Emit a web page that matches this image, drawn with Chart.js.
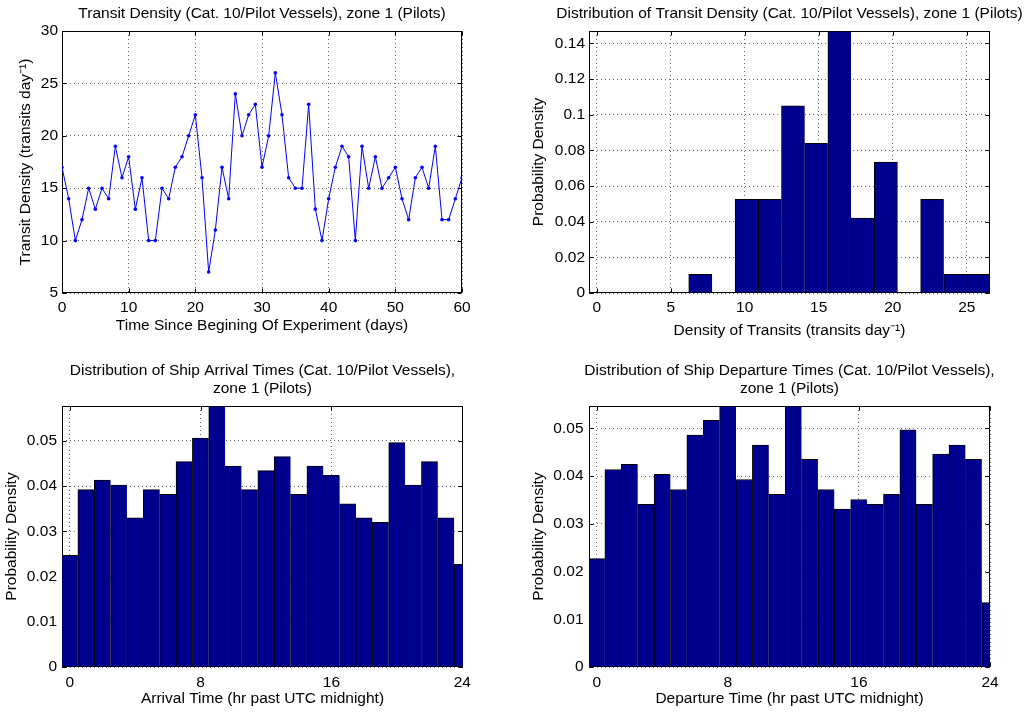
<!DOCTYPE html>
<html>
<head>
<meta charset="utf-8">
<script src="https://cdn.jsdelivr.net/npm/chart.js@4/dist/chart.umd.min.js"></script>
<style>
  html, body { margin: 0; padding: 0; background: #fff; }
  #wrap { position: relative; width: 1032px; height: 713px; background: #fff; }
  canvas { position: absolute; }
</style>
</head>
<body>
<div id="wrap">
  <canvas id="cTransit" width="516" height="350" style="left:0;top:0"></canvas>
  <canvas id="cDensity" width="516" height="350" style="left:516px;top:0"></canvas>
  <canvas id="cArrival" width="516" height="363" style="left:0;top:350px"></canvas>
  <canvas id="cDeparture" width="516" height="363" style="left:516px;top:350px"></canvas>
</div>
<script>
// ---- Daily transit counts, pilot vessels, zone 1 ----
const days = [0,1,2,3,4,5,6,7,8,9,10,11,12,13,14,15,16,17,18,19,20,
  21,22,23,24,25,26,27,28,29,30,31,32,33,34,35,36,37,38,39,40,
  41,42,43,44,45,46,47,48,49,50,51,52,53,54,55,56,57,58,59,60];
const transitsPerDay = [17,14,10,12,15,13,15,14,19,16,
  18,13,16,10,10,15,14,17,18,20,
  22,16,7,11,17,14,24,20,22,23,
  17,20,26,22,16,15,15,23,13,10,
  14,17,19,18,10,19,15,18,15,16,
  17,14,12,16,17,15,19,12,12,14,16];

// ---- Histogram of daily transit density ----
const densityBinCenters = [7.000, 8.567, 10.133, 11.700, 13.267, 14.833, 16.400,
  17.967, 19.533, 21.100, 22.667, 24.233, 25.800];
const densityPdf = [0.0105, 0, 0.0525, 0.0525, 0.1050, 0.0840, 0.1470,
  0.0420, 0.0735, 0, 0.0525, 0.0105, 0.0105];

// ---- Hour-of-day histograms ----
const hourBins = [0,1,2,3,4,5,6,7,8,9,10,11,12,13,14,15,16,17,18,19,20,21,22,23,24];
const arrivalPdf = [0.0247,0.0392,0.0413,0.0402,0.0330,0.0392,0.0382,0.0454,0.0506,0.0577,
  0.0444,0.0392,0.0434,0.0465,0.0382,0.0444,0.0424,0.0361,0.0330,0.0320,
  0.0496,0.0402,0.0454,0.0330,0.0227];
const departurePdf = [0.0227,0.0414,0.0425,0.0341,0.0404,0.0372,0.0486,0.0517,0.0547,0.0393,
  0.0465,0.0362,0.0547,0.0435,0.0372,0.0331,0.0351,0.0341,0.0362,0.0497,
  0.0341,0.0446,0.0465,0.0435,0.0135];

// ---- Tick labels ----
const dayTicks = [0,10,20,30,40,50,60];
const transitTicks = [5,10,15,20,25,30];
const densityTicks = [0,5,10,15,20,25];
const pdfTicksDensity = [0,0.02,0.04,0.06,0.08,0.10,0.12,0.14];
const hourTicks = [0,8,16,24];
const pdfTicksHour = [0,0.01,0.02,0.03,0.04,0.05];

const FONT = "'Liberation Sans', Arial, Helvetica, sans-serif";
const FS = 15.5;
Chart.defaults.font.family = FONT;
Chart.defaults.color = '#000';

const fmt = v => String(Number(Number(v).toFixed(4)));

// Boxed axes with inward tick marks, drawn beneath the data
const axesBox = {
  id: 'axesBox',
  beforeDatasetsDraw(chart) {
    const { ctx, chartArea: a, scales: { x, y } } = chart;
    const L = Math.round(a.left) + 0.5, R = Math.round(a.right) - 0.5;
    const T = Math.round(a.top) + 0.5, B = Math.round(a.bottom) - 0.5;
    const len = 4;
    ctx.save();
    ctx.setLineDash([]);
    ctx.strokeStyle = '#000';
    ctx.lineWidth = 1;
    ctx.strokeRect(L, T, R - L, B - T);
    ctx.beginPath();
    x.ticks.forEach(t => {
      const px = Math.round(x.getPixelForValue(t.value)) + 0.5;
      ctx.moveTo(px, B); ctx.lineTo(px, B - len);
      ctx.moveTo(px, T); ctx.lineTo(px, T + len);
    });
    y.ticks.forEach(t => {
      const py = Math.round(y.getPixelForValue(t.value)) + 0.5;
      ctx.moveTo(L, py); ctx.lineTo(L + len, py);
      ctx.moveTo(R, py); ctx.lineTo(R - len, py);
    });
    ctx.stroke();
    ctx.restore();
  }
};

// Plot title centred over the axes box; long titles may run past the box edges
const panelTitle = {
  id: 'panelTitle',
  afterDraw(chart, args, opts) {
    const { ctx, chartArea: a } = chart;
    ctx.save();
    ctx.font = FS + 'px ' + FONT;
    ctx.fillStyle = '#000';
    ctx.textAlign = 'center';
    ctx.textBaseline = 'middle';
    opts.lines.forEach((t, i) => ctx.fillText(t, (a.left + a.right) / 2, opts.y + i * opts.gap));
    ctx.restore();
  }
};

function axis(o) {
  return {
    type: 'linear',
    min: o.min, max: o.max,
    offset: false,
    afterBuildTicks: s => { s.ticks = o.ticks.map(v => ({ value: v })); },
    afterFit: s => { if (o.horizontal) s.height = o.size; else s.width = o.size; },
    grid: { color: '#666', lineWidth: 1, drawTicks: false, offset: false, borderDash: [1, 3] },
    border: { display: false, dash: [1, 3] },
    ticks: { autoSkip: false, maxRotation: 0, padding: o.tickPad, font: { size: FS }, callback: v => fmt(v) },
    title: { display: true, text: o.title, font: { size: FS }, padding: o.titlePad }
  };
}

function makeChart(id, cfg) {
  return new Chart(document.getElementById(id), {
    type: cfg.type,
    data: { datasets: [cfg.dataset] },
    options: {
      responsive: false,
      animation: false,
      devicePixelRatio: 1,
      layout: { padding: { left: 0, top: cfg.topPad, bottom: 0, right: cfg.rightPad } },
      plugins: {
        legend: { display: false },
        tooltip: { enabled: false },
        title: { display: false },
        panelTitle: { lines: cfg.title, y: cfg.titleY, gap: 17.8 }
      },
      scales: { x: cfg.x, y: cfg.y }
    },
    plugins: [axesBox, panelTitle]
  });
}

function histDataset(centers, values) {
  return {
    data: centers.map((c, i) => ({ x: c, y: values[i] })),
    backgroundColor: '#00008f',
    borderColor: '#000',
    borderWidth: ctx => {
      const next = values[ctx.dataIndex + 1];
      return { left: 1, top: 1, bottom: 0, right: (next === undefined || next === 0) ? 1 : 0 };
    },
    borderSkipped: 'start',
    barPercentage: 1,
    categoryPercentage: 1,
    clip: 0
  };
}

// Top left: daily transit density time series
makeChart('cTransit', {
  type: 'line',
  topPad: 31,
  rightPad: 54,
  title: ['Transit Density (Cat. 10/Pilot Vessels), zone 1 (Pilots)'],
  titleY: 13.7,
  dataset: {
    data: days.map((d, i) => ({ x: d, y: transitsPerDay[i] })),
    borderColor: '#0000ff', borderWidth: 1, tension: 0,
    pointRadius: 1.8, pointBackgroundColor: '#0000ff', pointBorderWidth: 0
  },
  x: axis({ horizontal: true, size: 57, min: 0, max: 60, ticks: dayTicks, tickPad: 5.4,
    title: 'Time Since Begining Of Experiment (days)', titlePad: { top: 0, bottom: 15.2 } }),
  y: axis({ size: 62, min: 5, max: 30, ticks: transitTicks, tickPad: 4,
    title: 'Transit Density (transits day\u207B\u00B9)', titlePad: { top: 16.9, bottom: 0 } })
});

// Top right: distribution of transit density
makeChart('cDensity', {
  type: 'bar',
  topPad: 31,
  rightPad: 42,
  title: ['Distribution of Transit Density (Cat. 10/Pilot Vessels), zone 1 (Pilots)'],
  titleY: 13.4,
  dataset: histDataset(densityBinCenters, densityPdf),
  x: axis({ horizontal: true, size: 57, min: -0.52, max: 26.57, ticks: densityTicks, tickPad: 5.4,
    title: 'Density of Transits (transits day\u207B\u00B9)', titlePad: { top: 0, bottom: 9.9 } }),
  y: axis({ size: 73, min: 0, max: 0.147, ticks: pdfTicksDensity, tickPad: 4,
    title: 'Probability Density', titlePad: { top: 13, bottom: 0 } })
});

// Bottom left: arrival hour distribution
makeChart('cArrival', {
  type: 'bar',
  topPad: 56,
  rightPad: 53,
  title: ['Distribution of Ship Arrival Times (Cat. 10/Pilot Vessels),', 'zone 1 (Pilots)'],
  titleY: 20.8,
  dataset: histDataset(hourBins, arrivalPdf),
  x: axis({ horizontal: true, size: 46, min: -0.47, max: 24.04, ticks: hourTicks, tickPad: 6.4,
    title: 'Arrival Time (hr past UTC midnight)', titlePad: { top: 0, bottom: 4.5 } }),
  y: axis({ size: 62, min: 0, max: 0.0577, ticks: pdfTicksHour, tickPad: 5,
    title: 'Probability Density', titlePad: { top: 2.4, bottom: 0 } })
});

// Bottom right: departure hour distribution
makeChart('cDeparture', {
  type: 'bar',
  topPad: 56,
  rightPad: 42,
  title: ['Distribution of Ship Departure Times (Cat. 10/Pilot Vessels),', 'zone 1 (Pilots)'],
  titleY: 20.8,
  dataset: histDataset(hourBins, departurePdf),
  x: axis({ horizontal: true, size: 46, min: -0.47, max: 24.0, ticks: hourTicks, tickPad: 6.4,
    title: 'Departure Time (hr past UTC midnight)', titlePad: { top: 0, bottom: 4.5 } }),
  y: axis({ size: 73, min: 0, max: 0.0547, ticks: pdfTicksHour, tickPad: 5.5,
    title: 'Probability Density', titlePad: { top: 13, bottom: 0 } })
});
</script>
</body>
</html>
